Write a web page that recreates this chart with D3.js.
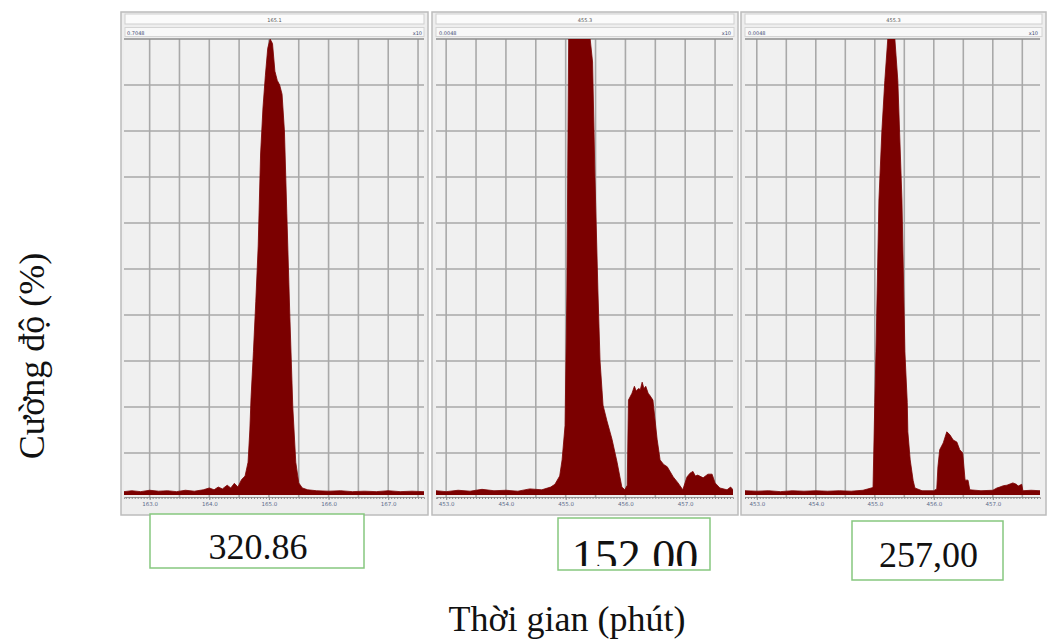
<!DOCTYPE html>
<html>
<head>
<meta charset="utf-8">
<script src="https://cdn.jsdelivr.net/npm/d3@7"></script>
<style>
  body { margin: 0; background: #fff; }
  svg { display: block; }
</style>
</head>
<body>
<svg id="chart" width="1050" height="641"></svg>
<script>
// ---- Chromatogram data: retention time (min) and relative intensity (%) ----
const p1Time = [162.57, 162.70, 162.85, 163.00, 163.15, 163.30, 163.45, 163.60, 163.75, 163.90,
  164.00, 164.08, 164.15, 164.22, 164.30, 164.36, 164.42, 164.48, 164.54, 164.60,
  164.65, 164.68, 164.70, 164.74, 164.78, 164.82, 164.86, 164.90, 164.94, 164.98,
  165.02, 165.06, 165.10, 165.14, 165.18, 165.22, 165.26, 165.30, 165.35, 165.40,
  165.45, 165.50, 165.56, 165.65, 165.80, 166.00, 166.20, 166.40, 166.60, 166.80,
  167.00, 167.20, 167.40, 167.60];
const p1Int = [1.6, 1.8, 1.6, 1.9, 1.7, 1.8, 1.6, 1.9, 1.7, 2.0,
  2.4, 2.0, 2.6, 2.2, 3.0, 2.4, 3.4, 2.6, 4.2, 5.0,
  8, 15, 22, 32, 43, 55, 75, 85, 92, 98,
  100, 99, 93, 91, 90, 88, 80, 62, 40, 20,
  8, 3.5, 2.4, 2.0, 1.8, 1.7, 1.8, 1.6, 1.7, 1.6,
  1.8, 1.6, 1.7, 1.6];

const p2Time = [452.83, 453.00, 453.20, 453.40, 453.60, 453.80, 454.00, 454.20, 454.40, 454.60,
  454.75, 454.82, 454.90, 454.94, 454.99, 455.02, 455.05, 455.41, 455.45, 455.49,
  455.54, 455.575, 455.625, 455.69, 455.775, 455.86, 455.94, 455.99, 456.03, 456.05,
  456.11, 456.15, 456.18, 456.22, 456.25, 456.28, 456.31, 456.34, 456.38, 456.41,
  456.46, 456.53, 456.58, 456.64, 456.70, 456.80, 456.88, 456.96, 457.03, 457.08,
  457.13, 457.17, 457.21, 457.30, 457.38, 457.45, 457.50, 457.58, 457.70, 457.76,
  457.80];
const p2Int = [1.8, 1.6, 1.9, 1.7, 2.1, 1.8, 1.9, 1.7, 2.2, 2.0,
  2.6, 3.2, 5.0, 8.5, 16, 45, 100, 100, 95, 70,
  45, 30, 20.4, 17, 13, 8, 2.6, 2.0, 3, 21.5,
  23, 24.5, 23.5, 24, 23.8, 25.4, 24, 24.5, 23, 22.5,
  21.5, 13, 8.5, 7.5, 7, 4.8, 3.5, 2.0, 4.8, 5.6,
  6.0, 5.0, 5.2, 4.6, 5.4, 5.4, 3.5, 2.4, 2.0, 2.6,
  2.0];

const p3Time = [452.80, 453.00, 453.20, 453.40, 453.60, 453.80, 454.00, 454.20, 454.40, 454.60,
  454.80, 454.97, 455.00, 455.02, 455.07, 455.12, 455.17, 455.22, 455.29, 455.34,
  455.39, 455.46, 455.51, 455.55, 455.56, 455.60, 455.65, 455.68, 455.80, 456.00,
  456.05, 456.07, 456.10, 456.16, 456.22, 456.27, 456.33, 456.39, 456.44, 456.49,
  456.53, 456.58, 456.61, 456.80, 457.00, 457.07, 457.12, 457.18, 457.24, 457.30,
  457.34, 457.40, 457.43, 457.49, 457.51, 457.65, 457.80];
const p3Int = [1.8, 1.7, 1.8, 1.6, 1.8, 1.7, 1.8, 1.7, 1.8, 1.7,
  1.9, 2.5, 21, 32, 65, 80, 91, 100, 100, 100,
  91, 65, 32, 21, 14.6, 8.5, 4, 2.4, 1.8, 1.8,
  2.2, 7, 10.7, 12.2, 14.6, 14, 12.8, 12.4, 10.7, 10,
  4.1, 4.1, 2, 1.8, 1.9, 2.4, 2.6, 2.9, 3, 3.3,
  3.5, 3.2, 2.8, 3.2, 1.8, 1.9, 1.8];

// Axis tick labels (minutes) and panel headers
const p1Ticks = [163, 164, 165, 166, 167];
const p2Ticks = [453, 454, 455, 456, 457];
const p3Ticks = [453, 454, 455, 456, 457];
const panelTitles = ["165.1", "455.3", "455.3"];
const panelLeftNotes = ["0.7048", "0.0048", "0.0048"];
const panelRightNotes = ["x10", "x10", "x10"];

// Peak area values shown under each trace
const areaLabels = ["320.86", "152.00", "257,00"];

// Axis titles
const yTitle = "Cường độ (%)";
const xTitle = "Thời gian (phút)";

// ---- Layout ----
const svg = d3.select("#chart");
const plotTop = 39, plotBottom = 495, axisY = 497;
const y = d3.scaleLinear().domain([0, 100]).range([499, plotTop]);

const panels = [
  { time: p1Time, value: p1Int, ticks: p1Ticks, domain: [162.57, 167.6], frame: [121, 12, 428, 515], plot: [124, 424] },
  { time: p2Time, value: p2Int, ticks: p2Ticks, domain: [452.83, 457.8], frame: [432, 12, 738, 515], plot: [436, 733] },
  { time: p3Time, value: p3Int, ticks: p3Ticks, domain: [452.8, 457.8], frame: [741, 12, 1046, 515], plot: [745, 1040] }
];

const defs = svg.append("defs");

panels.forEach((p, i) => {
  const [fx0, fy0, fx1, fy1] = p.frame;
  const [px0, px1] = p.plot;
  const x = d3.scaleLinear().domain(p.domain).range([px0, px1]);
  const g = svg.append("g").attr("class", "panel");

  // window frame
  g.append("rect").attr("x", fx0).attr("y", fy0).attr("width", fx1 - fx0).attr("height", fy1 - fy0)
    .attr("fill", "#eeeeee").attr("stroke", "#bcbcbc").attr("stroke-width", 1.5);

  // header bars
  g.append("rect").attr("x", fx0 + 4).attr("y", 14).attr("width", fx1 - fx0 - 8).attr("height", 10)
    .attr("fill", "#fbfbfb").attr("stroke", "#cfcfcf");
  g.append("text").attr("x", (fx0 + fx1) / 2).attr("y", 21.5).attr("text-anchor", "middle")
    .attr("font-family", "DejaVu Sans").attr("font-size", 5).attr("fill", "#555")
    .text(panelTitles[i]);
  g.append("rect").attr("x", fx0 + 4).attr("y", 27.5).attr("width", fx1 - fx0 - 8).attr("height", 9)
    .attr("fill", "#f8f8f8").attr("stroke", "#d4d4d4");
  g.append("text").attr("x", px0 + 3).attr("y", 34.5)
    .attr("font-family", "DejaVu Sans").attr("font-size", 5).attr("fill", "#3d4a70")
    .text(panelLeftNotes[i]);
  g.append("text").attr("x", px1 - 2).attr("y", 34.5).attr("text-anchor", "end")
    .attr("font-family", "DejaVu Sans").attr("font-size", 5).attr("fill", "#3d4a70")
    .text(panelRightNotes[i]);

  // plot background
  g.append("rect").attr("x", px0).attr("y", plotTop).attr("width", px1 - px0).attr("height", plotBottom - plotTop)
    .attr("fill", "#f0f0f0");

  // grid
  const vGrid = d3.range(Math.ceil(p.domain[0] * 2) / 2, p.domain[1], 0.5);
  g.append("g").selectAll("line").data(vGrid).join("line")
    .attr("x1", d => x(d)).attr("x2", d => x(d))
    .attr("y1", plotTop).attr("y2", axisY)
    .attr("stroke", "#a9a9a9").attr("stroke-width", 1.6);
  const hGrid = d3.range(10, 100, 10);
  g.append("g").selectAll("line").data(hGrid).join("line")
    .attr("x1", px0).attr("x2", px1)
    .attr("y1", d => y(d)).attr("y2", d => y(d))
    .attr("stroke", "#a9a9a9").attr("stroke-width", 1.6);
  g.append("line").attr("x1", px0).attr("x2", px1).attr("y1", plotTop).attr("y2", plotTop)
    .attr("stroke", "#8c8c8c").attr("stroke-width", 1.5);

  // trace
  const clipId = "clip" + i;
  defs.append("clipPath").attr("id", clipId).append("rect")
    .attr("x", px0).attr("y", plotTop).attr("width", px1 - px0).attr("height", plotBottom - plotTop);
  const rows = p.time.map((t, k) => ({ t, v: p.value[k] }));
  const area = d3.area().x(d => x(d.t)).y0(y(0)).y1(d => y(d.v)).curve(d3.curveLinear);
  g.append("path").datum(rows).attr("clip-path", `url(#${clipId})`)
    .attr("d", area).attr("fill", "#7b0000").attr("stroke", "#7b0000").attr("stroke-width", 0.8);

  // x axis: minor ticks
  const minor = d3.range(Math.ceil(p.domain[0] * 20) / 20, p.domain[1], 0.05);
  const minorAxis = d3.axisBottom(x).tickValues(minor).tickSize(2).tickFormat("");
  const ma = g.append("g").attr("transform", `translate(0,${axisY})`).call(minorAxis);
  ma.select(".domain").attr("stroke", "#9a9a9a").attr("stroke-width", 1);
  ma.selectAll(".tick line").attr("stroke", "#8a8a8a");

  // x axis: major labels
  const majorAxis = d3.axisBottom(x).tickValues(p.ticks).tickSize(3).tickPadding(2).tickFormat(d3.format(".1f"));
  const mj = g.append("g").attr("transform", `translate(0,${axisY})`).call(majorAxis);
  mj.select(".domain").remove();
  mj.selectAll(".tick line").attr("stroke", "#8a8a8a");
  mj.selectAll(".tick text").attr("font-family", "DejaVu Sans").attr("font-size", 5.5).attr("fill", "#5d6c8c");
});

// ---- Peak area boxes ----
const boxes = [
  { x: 150, y: 514, w: 214, h: 54, ty: 559, fs: 36 },
  { x: 558, y: 518, w: 152, h: 52, ty: 572, fs: 46 },
  { x: 852, y: 521, w: 151, h: 59, ty: 567, fs: 36 }
];
boxes.forEach((b, i) => {
  const cid = "boxclip" + i;
  defs.append("clipPath").attr("id", cid).append("rect")
    .attr("x", b.x).attr("y", b.y).attr("width", b.w).attr("height", b.h - 4);
  svg.append("rect").attr("x", b.x).attr("y", b.y).attr("width", b.w).attr("height", b.h)
    .attr("fill", "#fff").attr("stroke", "#86c77f").attr("stroke-width", 1.5);
  svg.append("text").attr("x", b.x + b.w / 2 + 1).attr("y", b.ty).attr("text-anchor", "middle")
    .attr("clip-path", `url(#${cid})`)
    .attr("font-family", "Liberation Serif").attr("font-size", b.fs).attr("fill", "#111")
    .text(areaLabels[i]);
});

// ---- Axis titles ----
svg.append("text").attr("transform", "translate(44,356) rotate(-90)").attr("text-anchor", "middle")
  .attr("font-family", "Liberation Serif").attr("font-size", 36).attr("fill", "#111")
  .text(yTitle);
svg.append("text").attr("x", 567).attr("y", 631).attr("text-anchor", "middle")
  .attr("font-family", "Liberation Serif").attr("font-size", 36).attr("fill", "#111")
  .text(xTitle);
</script>
</body>
</html>
